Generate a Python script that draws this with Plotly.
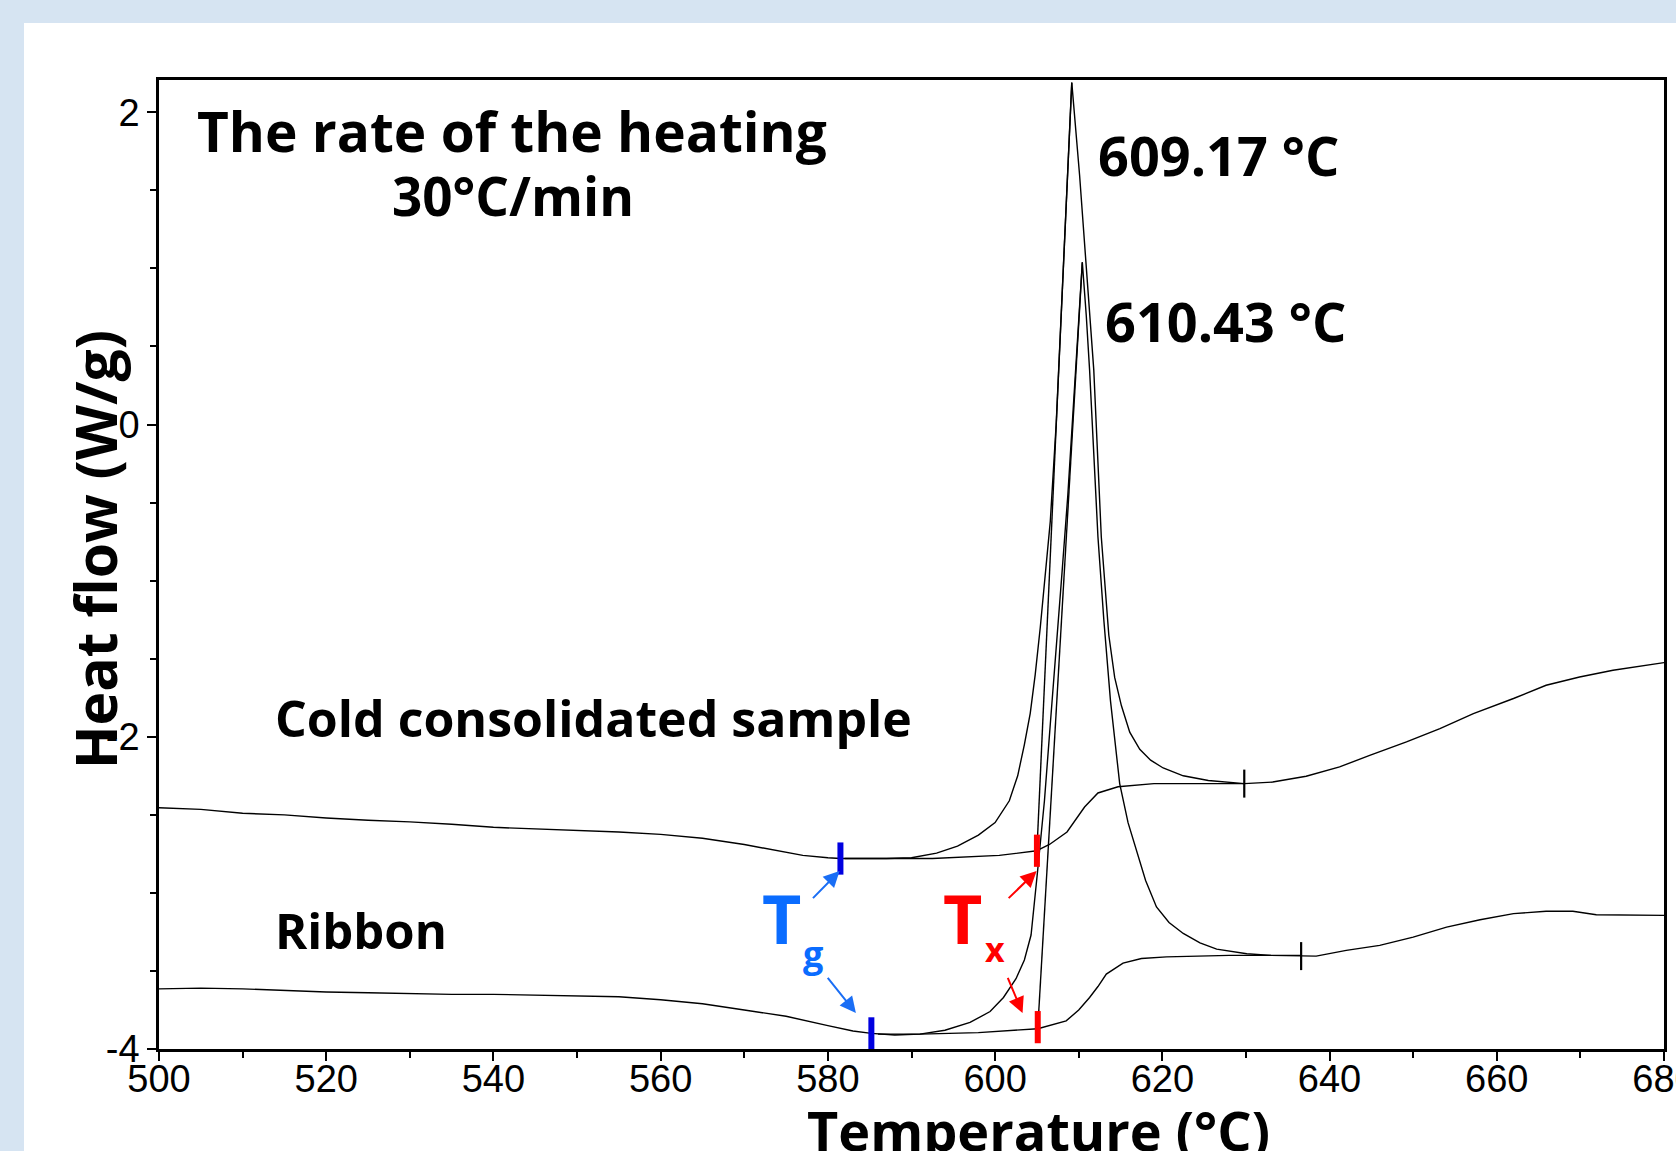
import plotly.graph_objects as go

# ---------------- data ----------------
# Cold consolidated sample: DSC trace
cold_T = [500, 505, 510, 515, 520, 525, 530, 535, 540, 545,
          550, 555, 560, 565, 570, 574, 577, 580, 581.5, 584,
          587, 590, 593, 595.5, 598, 600, 601.7, 602.7, 603.5, 604.2,
          604.8, 605.4, 606.0, 606.6, 607.3, 608.3, 609.17, 610.1, 611.0, 611.8,
          612.7, 613.6, 614.3, 615.1, 616.1, 617.3, 618.6, 620.1, 622.5, 625.5,
          629.8, 633.2, 637.2, 641.2, 644.8, 649.2, 653.2, 657.2, 662.0, 665.9,
          669.9, 673.9, 680]
cold_V = [-2.455, -2.465, -2.49, -2.50, -2.52, -2.535, -2.545, -2.56, -2.58, -2.59,
          -2.60, -2.61, -2.625, -2.65, -2.69, -2.73, -2.76, -2.775, -2.78, -2.78,
          -2.78, -2.775, -2.745, -2.70, -2.63, -2.55, -2.41, -2.25, -2.05, -1.85,
          -1.60, -1.30, -0.98, -0.62, 0.0, 1.15, 2.19, 1.60, 0.95, 0.35,
          -0.72, -1.35, -1.62, -1.80, -1.97, -2.08, -2.15, -2.20, -2.25, -2.28,
          -2.30, -2.29, -2.253, -2.193, -2.119, -2.033, -1.948, -1.852, -1.755, -1.67,
          -1.617, -1.574, -1.525]
# onset construction lines and integration baseline (cold consolidated)
cold_tangent_T = [605.0, 609.17]
cold_tangent_V = [-2.73, 2.19]
cold_extrap_T = [582, 592.5, 600.5, 605.0]
cold_extrap_V = [-2.78, -2.78, -2.76, -2.73]
cold_base_T = [605.0, 606.5, 608.6, 610.7, 612.3, 614.7, 619.0, 624.0, 629.8]
cold_base_V = [-2.73, -2.69, -2.61, -2.45, -2.36, -2.32, -2.30, -2.30, -2.30]

# Ribbon: DSC trace
rib_T = [500, 505, 510, 515, 520, 525, 530, 535, 540, 545,
         550, 555, 560, 565, 570, 575, 580, 583, 585.2, 588,
         591, 594, 597, 599.4, 601, 602.5, 603.5, 604.3, 605.1, 605.9,
         606.6, 607.3, 608.0, 608.7, 609.4, 610.0, 610.43, 610.9, 611.3, 612.3,
         613.0, 613.8, 614.9, 615.9, 616.9, 618.0, 619.3, 620.8, 622.5, 624.5,
         626.5, 630.1, 633.0, 636.6, 638.4, 642.0, 646.0, 650.0, 654.0, 658.0,
         662.0, 665.9, 669.1, 671.9, 675.9, 680]
rib_V = [-3.615, -3.61, -3.615, -3.625, -3.635, -3.64, -3.645, -3.65, -3.65, -3.655,
         -3.66, -3.665, -3.685, -3.71, -3.75, -3.79, -3.85, -3.885, -3.90, -3.91,
         -3.905, -3.88, -3.83, -3.76, -3.67, -3.55, -3.43, -3.27, -2.85, -2.41,
         -1.92, -1.45, -0.95, -0.45, 0.15, 0.70, 1.04, 0.70, 0.35, -0.72,
         -1.25, -1.77, -2.30, -2.55, -2.73, -2.92, -3.09, -3.19, -3.26, -3.32,
         -3.36, -3.39, -3.40, -3.405, -3.405, -3.368, -3.336, -3.283, -3.219, -3.172,
         -3.133, -3.118, -3.118, -3.14, -3.144, -3.144]
rib_tangent_T = [605.1, 610.43]
rib_tangent_V = [-3.87, 1.04]
rib_extrap_T = [586, 591, 598, 605.1]
rib_extrap_V = [-3.905, -3.905, -3.895, -3.87]
rib_base_T = [605.1, 608.5, 610.0, 611.3, 612.3, 613.3, 615.3, 617.5, 620.5, 628.0, 636.6]
rib_base_V = [-3.87, -3.82, -3.75, -3.67, -3.60, -3.52, -3.45, -3.42, -3.41, -3.40, -3.40]

# characteristic points
tg_T = [581.5, 585.2]
tg_V = [-2.78, -3.90]
tx_T = [605.0, 605.1]
tx_V = [-2.73, -3.86]
end_T = [629.8, 636.6]
end_V = [-2.30, -3.405]

peak_labels = ["609.17 °C", "610.43 °C"]
x_tick_vals = [500, 520, 540, 560, 580, 600, 620, 640, 660, 680]
x_tick_text = ["500", "520", "540", "560", "580", "600", "620", "640", "660", "680"]
y_tick_vals = [-4, -2, 0, 2]
y_tick_text = ["-4", "-2", "0", "2"]

assert len(cold_T) == len(cold_V) and len(rib_T) == len(rib_V)

# ---------------- figure ----------------
BIG = "Open Sans"
fig = go.Figure()


def add_line(x, y, w=1.4):
    fig.add_trace(go.Scatter(x=x, y=y, mode="lines",
                             line=dict(color="black", width=w),
                             hoverinfo="skip", showlegend=False))


for xs, ys in [(cold_T, cold_V), (cold_tangent_T, cold_tangent_V),
               (cold_extrap_T, cold_extrap_V), (cold_base_T, cold_base_V),
               (rib_T, rib_V), (rib_tangent_T, rib_tangent_V),
               (rib_extrap_T, rib_extrap_V), (rib_base_T, rib_base_V)]:
    add_line(xs, ys)

fig.add_trace(go.Scatter(x=end_T, y=end_V, mode="markers", showlegend=False,
                         hoverinfo="skip",
                         marker=dict(symbol="line-ns", size=20,
                                     line=dict(color="black", width=2.2))))
fig.add_trace(go.Scatter(x=tg_T, y=tg_V, mode="markers", showlegend=False,
                         hoverinfo="skip",
                         marker=dict(symbol="line-ns", size=23,
                                     line=dict(color="#0000e0", width=6))))
fig.add_trace(go.Scatter(x=tx_T, y=tx_V, mode="markers", showlegend=False,
                         hoverinfo="skip",
                         marker=dict(symbol="line-ns", size=23,
                                     line=dict(color="#ff0000", width=6))))

ann = []


def text(x, y, s, size, color="black", xanchor="center", xref="x", yref="y",
         angle=0):
    ann.append(dict(x=x, y=y, xref=xref, yref=yref, text=s, showarrow=False,
                    xanchor=xanchor, yanchor="middle", textangle=angle,
                    font=dict(family=BIG, size=size, color=color, weight=700)))


text(542.2, 1.885, "The rate of the heating", 55)
text(542.3, 1.47, "30°C/min", 53)
text(612.07, 1.727, peak_labels[0], 54, xanchor="left")
text(612.9, 0.663, peak_labels[1], 54, xanchor="left")
text(513.6, -1.88, "Cold consolidated sample", 50, xanchor="left")
text(513.6, -3.24, "Ribbon", 49, xanchor="left")
text(574.45, -3.16, "T", 68, color="#0a6cff")
text(578.2, -3.39, "g", 36, color="#0a6cff")
text(596.06, -3.16, "T", 68, color="#ff0000")
text(600.0, -3.36, "x", 34, color="#ff0000")
text(0.5847, -0.084, "Temperature (°C)", 54, xref="paper", yref="paper")
text(-0.0425, 0.515, "Heat flow (W/g)", 57, xref="paper", yref="paper", angle=-90)

for (tx, ty, hx, hy, col) in [(578.04, -3.043, 581.4, -2.86, "#1a6ef5"),
                              (579.84, -3.535, 583.35, -3.77, "#1a6ef5"),
                              (601.44, -3.043, 604.96, -2.86, "#ff0000"),
                              (601.44, -3.535, 603.28, -3.77, "#ff0000")]:
    ann.append(dict(x=hx, y=hy, ax=tx, ay=ty, xref="x", yref="y",
                    axref="x", ayref="y", text="", showarrow=True,
                    arrowhead=2, arrowsize=1.6, arrowwidth=2, arrowcolor=col))

fig.update_layout(
    width=1676, height=1151, autosize=False,
    margin=dict(l=159, r=12, t=80, b=102, pad=0, autoexpand=False),
    paper_bgcolor="#d6e4f2", plot_bgcolor="white",
    annotations=ann,
    shapes=[dict(type="rect", xref="paper", yref="paper",
                 x0=-0.0897, x1=1.02, y0=-0.12, y1=1.0588,
                 fillcolor="white", line=dict(width=0), layer="below")],
    font=dict(family="Liberation Sans", color="black"),
)
axis_common = dict(showgrid=False, zeroline=False, showline=True,
                   linecolor="black", linewidth=2.5, mirror=True,
                   ticks="outside", ticklen=9, tickwidth=2, tickcolor="black",
                   ticklabeloverflow="allow", automargin=False,
                   tickfont=dict(family="Liberation Sans", size=38, color="black"))
fig.update_xaxes(range=[500, 680], tickvals=x_tick_vals, ticktext=x_tick_text,
                 minor=dict(dtick=10, tick0=500, ticks="outside", ticklen=6,
                            tickwidth=2, tickcolor="black"),
                 ticklabelstandoff=-14, **axis_common)
fig.update_yaxes(range=[-4, 2.207], tickvals=y_tick_vals, ticktext=y_tick_text,
                 minor=dict(dtick=0.5, tick0=-4, ticks="outside", ticklen=6,
                            tickwidth=2, tickcolor="black"),
                 ticklabelstandoff=0, **axis_common)

fig.write_html("out.html",
               config={"displayModeBar": False},
               post_script="document.body.style.margin='0px';"
                           "document.body.style.overflow='hidden';")
